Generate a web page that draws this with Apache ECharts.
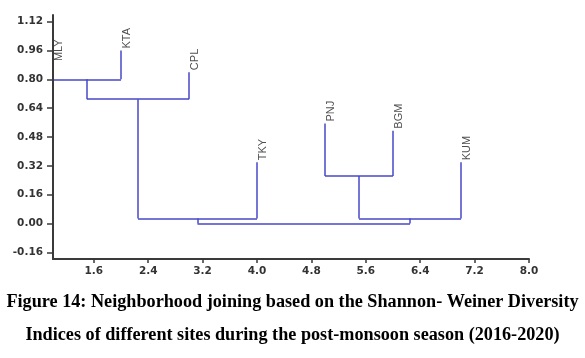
<!DOCTYPE html>
<html><head><meta charset="utf-8">
<script src="https://cdn.jsdelivr.net/npm/echarts@6/dist/echarts.min.js"></script>
<style>html,body{margin:0;padding:0;background:#fff}#c{width:585px;height:358px}</style>
</head><body><div id="c"></div>
<script>
// Leaves (sites) and their positions / tip heights
var leafNames = ['MLY', 'KTA', 'CPL', 'TKY', 'PNJ', 'BGM', 'KUM'];
var leafX = [1, 2, 3, 4, 5, 6, 7];
var leafTipY = [0.89, 0.96, 0.84, 0.34, 0.555, 0.515, 0.34];
// Internal nodes (joins)
var nodeNames = ['n1', 'n2', 'n3', 'n5', 'n4', 'root'];
var nodeLeft = ['MLY', 'n1', 'n2', 'PNJ', 'n5', 'n3'];
var nodeRight = ['KTA', 'CPL', 'TKY', 'BGM', 'KUM', 'n4'];
var nodeHeight = [0.80, 0.69, 0.028, 0.263, 0.028, 0.0];
// Axis tick labels
var xTicks = [1.6, 2.4, 3.2, 4.0, 4.8, 5.6, 6.4, 7.2, 8.0];
var yTicks = [-0.16, 0, 0.16, 0.32, 0.48, 0.64, 0.80, 0.96, 1.12];
var captionLines = ['Figure 14: Neighborhood joining based on the Shannon- Weiner Diversity',
  'Indices of different sites during the post-monsoon season (2016-2020)'];

var pos = {};
leafNames.forEach(function (n, i) { pos[n] = { x: leafX[i], y: leafTipY[i] }; });
nodeNames.forEach(function (n, i) {
  var l = pos[nodeLeft[i]], r = pos[nodeRight[i]];
  pos[n] = { x: (l.x + r.x) / 2, y: nodeHeight[i] };
});
var segs = [];
nodeNames.forEach(function (n, i) {
  var l = pos[nodeLeft[i]], r = pos[nodeRight[i]], h = nodeHeight[i];
  segs.push({ coords: [[l.x, h], [r.x, h]] });
  segs.push({ coords: [[l.x, h], [l.x, l.y]] });
  segs.push({ coords: [[r.x, h], [r.x, r.y]] });
});
var leafPts = leafNames.map(function (n, i) { return { name: n, value: [leafX[i], leafTipY[i]] }; });

var chart = echarts.init(document.getElementById('c'), null, { renderer: 'canvas' });
var axisLabelStyle = { color: '#333', fontFamily: 'DejaVu Sans', fontWeight: 'bold', fontSize: 10.5 };
chart.setOption({
  animation: false,
  backgroundColor: '#fff',
  title: {
    text: captionLines.join('\n'),
    left: 'center', top: 286, padding: 0,
    textStyle: { fontFamily: 'Liberation Serif', fontWeight: 'bold', fontSize: 18.2, color: '#000', lineHeight: 33, align: 'center' }
  },
  grid: { left: 53, right: 56, top: 15, bottom: 99, containLabel: false },
  xAxis: {
    type: 'value', min: 1, max: 8, z: 3,
    splitLine: { show: false },
    axisLine: { onZero: false, lineStyle: { color: '#3a3a3a', width: 2 } },
    axisTick: { length: 4, lineStyle: { color: '#3a3a3a', width: 1.5 }, customValues: xTicks },
    axisLabel: Object.assign({ margin: 7, customValues: xTicks, formatter: function (v) { return v.toFixed(1); } }, axisLabelStyle)
  },
  yAxis: {
    type: 'value', min: -0.197, max: 1.157, z: 3,
    splitLine: { show: false },
    axisLine: { show: true, onZero: false, lineStyle: { color: '#3a3a3a', width: 2 } },
    axisTick: { show: true, length: 6, lineStyle: { color: '#3a3a3a', width: 1.5 }, customValues: yTicks },
    axisLabel: Object.assign({ margin: 10, customValues: yTicks, formatter: function (v) { return v.toFixed(2); } }, axisLabelStyle)
  },
  series: [
    {
      type: 'lines', coordinateSystem: 'cartesian2d', z: 1,
      lineStyle: { color: '#4747c8', width: 1.5, opacity: 1 },
      data: segs
    },
    {
      type: 'scatter', symbolSize: 0, z: 4,
      data: leafPts,
      label: {
        show: true, position: 'top', distance: 2, rotate: 90, align: 'left', verticalAlign: 'top',
        formatter: function (p) { return p.name; },
        fontFamily: 'Liberation Sans Narrow, Liberation Sans, Arial', fontSize: 11, color: '#222'
      }
    }
  ]
});
</script></body></html>
